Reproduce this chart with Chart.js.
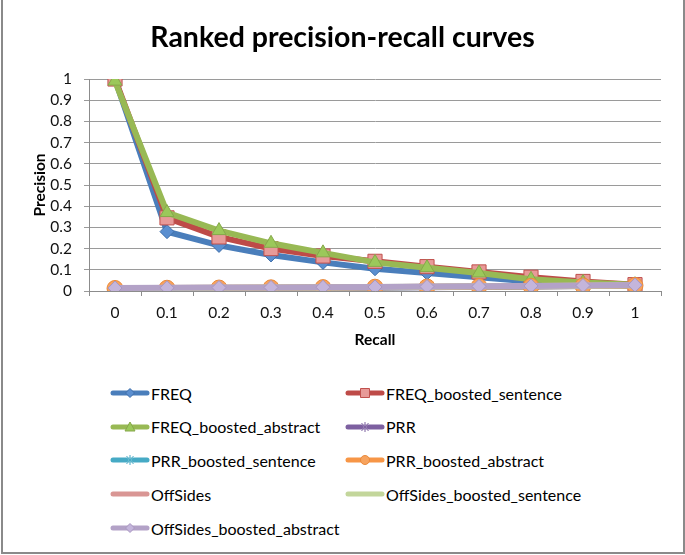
<!DOCTYPE html>
<html>
<head>
<meta charset="utf-8">
<script src="https://cdn.jsdelivr.net/npm/chart.js@4/dist/chart.umd.min.js"></script>
<style>
  html, body { margin: 0; padding: 0; background: #fff; }
  #wrap { position: relative; width: 685px; height: 555px; overflow: hidden; background: #fff; }
  #frame { position: absolute; left: 1px; top: -4px; width: 684px; height: 558px; border: 2px solid #8a8a8a; box-sizing: border-box; pointer-events: none; }
  #cv { position: absolute; left: 0; top: 0; }
  .leg { position: absolute; font-family: Lato, "Open Sans", sans-serif; font-size: 16px; color: #000; white-space: nowrap; display: flex; align-items: center; height: 20px; }
  .leg canvas { display: block; margin-right: 1px; }
</style>
</head>
<body>
<div id="wrap">
  <canvas id="cv" width="685" height="353"></canvas>
  <div id="legend"></div>
  <div id="frame"></div>
</div>
<script>
// ---- data ----
const recall = ["0", "0.1", "0.2", "0.3", "0.4", "0.5", "0.6", "0.7", "0.8", "0.9", "1"];
const seriesNames = ["FREQ", "FREQ_boosted_sentence", "FREQ_boosted_abstract", "PRR", "PRR_boosted_sentence", "PRR_boosted_abstract", "OffSides", "OffSides_boosted_sentence", "OffSides_boosted_abstract"];
const freq            = [1.00, 0.28, 0.215, 0.17, 0.135, 0.105, 0.085, 0.065, 0.045, 0.035, 0.028];
const freqBoostedSent = [1.00, 0.345, 0.255, 0.20, 0.165, 0.14, 0.115, 0.09, 0.065, 0.045, 0.03];
const freqBoostedAbs  = [0.99, 0.37, 0.285, 0.225, 0.18, 0.135, 0.11, 0.085, 0.055, 0.04, 0.03];
const prr             = [0.010, 0.012, 0.013, 0.014, 0.015, 0.017, 0.018, 0.020, 0.021, 0.023, 0.025];
const prrBoostedSent  = [0.011, 0.012, 0.013, 0.014, 0.016, 0.017, 0.019, 0.020, 0.022, 0.024, 0.026];
const prrBoostedAbs   = [0.012, 0.013, 0.014, 0.015, 0.016, 0.018, 0.019, 0.021, 0.022, 0.024, 0.026];
const offSides        = [0.013, 0.014, 0.015, 0.016, 0.017, 0.018, 0.020, 0.021, 0.023, 0.025, 0.027];
const offSidesBoostedSent = [0.013, 0.014, 0.015, 0.016, 0.017, 0.019, 0.020, 0.022, 0.023, 0.025, 0.027];
const offSidesBoostedAbs  = [0.014, 0.015, 0.016, 0.017, 0.018, 0.019, 0.021, 0.022, 0.024, 0.026, 0.028];
const yTicks = [0, 0.1, 0.2, 0.3, 0.4, 0.5, 0.6, 0.7, 0.8, 0.9, 1];

const values = [freq, freqBoostedSent, freqBoostedAbs, prr, prrBoostedSent, prrBoostedAbs, offSides, offSidesBoostedSent, offSidesBoostedAbs];

// ---- styles ----
const styles = [
  { line: "#4A7EBB", fill: "#5B8FD0", border: "#3F6FAA", point: "rectRot", r: 7 },
  { line: "#BE4B48", fill: "#E79A98", border: "#C0504D", point: "rect", r: 10 },
  { line: "#98B954", fill: "#9BC85A", border: "#86A84A", point: "triangle", r: 8 },
  { line: "#7D60A0", fill: "#7D60A0", border: "#7D60A0", point: "star", r: 6 },
  { line: "#46AAC5", fill: "#46AAC5", border: "#46AAC5", point: "star", r: 7.5 },
  { line: "#F79646", fill: "#F7A35E", border: "#E98A3C", point: "circle", r: 8 },
  { line: "#D99694", fill: "#D99694", border: "#D99694", point: false, r: 0 },
  { line: "#C3D69B", fill: "#C3D69B", border: "#C3D69B", point: false, r: 0 },
  { line: "#B3A2C7", fill: "#C4B5DB", border: "#A896C0", point: "rectRot", r: 7 }
];

const FONT = "Lato, 'Open Sans', sans-serif";
const datasets = seriesNames.map((name, i) => ({
  label: name,
  data: values[i],
  yAxisID: "y",
  borderColor: styles[i].line,
  borderWidth: 6,
  backgroundColor: styles[i].fill,
  pointStyle: styles[i].point,
  pointRadius: styles[i].r,
  pointBackgroundColor: styles[i].fill,
  pointBorderColor: styles[i].border,
  pointBorderWidth: (styles[i].point === "star") ? 2 : 1,
  tension: 0,
  fill: false,
  order: seriesNames.length - i
}));

new Chart(document.getElementById("cv"), {
  type: "line",
  data: { labels: recall, datasets },
  options: {
    responsive: false,
    animation: false,
    layout: { padding: { left: 0, right: 0, top: 0, bottom: 0 } },
    plugins: {
      legend: { display: false },
      tooltip: { enabled: false },
      title: {
        display: true,
        text: "Ranked precision-recall curves",
        color: "#000",
        font: { family: FONT, size: 28.5, weight: "bold" },
        padding: { top: 21, bottom: 79 - 21 - 28.5 * 1.2 }
      }
    },
    scales: {
      x: {
        type: "category",
        offset: true,
        grid: { display: true, drawOnChartArea: false, drawTicks: true, tickLength: 5, offset: true, color: "#8c8c8c" },
        border: { display: true, color: "#8c8c8c", width: 1 },
        ticks: { color: "#111", font: { family: FONT, size: 15.5 }, padding: 8, maxRotation: 0 },
        title: { display: true, text: "Recall", color: "#000", font: { family: FONT, size: 15.5, weight: "bold" }, padding: { top: 4, bottom: 4 } },
        afterFit: (s) => { s.height = 62; }
      },
      y: {
        min: 0, max: 1,
        afterBuildTicks: (s) => { s.ticks = yTicks.map(v => ({ value: v })); },
        grid: { color: "#9a9a9a", lineWidth: 1, drawTicks: true, tickLength: 5 },
        border: { display: true, color: "#8c8c8c", width: 1 },
        ticks: { color: "#111", font: { family: FONT, size: 15.5 }, padding: 12, autoSkip: false, callback: (v) => String(v) },
        title: { display: true, text: "Precision", color: "#000", font: { family: FONT, size: 15.5, weight: "bold" }, padding: { top: 31, bottom: 0 } },
        afterFit: (s) => { s.width = 89; }
      },
      yRightSpace: {
        position: "right",
        min: 0, max: 1,
        grid: { display: false, drawTicks: false },
        border: { display: false },
        ticks: { display: false },
        afterFit: (s) => { s.width = 24; }
      }
    }
  }
});

// ---- HTML legend (two columns), small hand-drawn legend markers ----
function legendMarker(ctx, st, x, y) {
  ctx.fillStyle = st.fill;
  ctx.strokeStyle = st.border;
  ctx.lineWidth = 1;
  ctx.beginPath();
  if (st.point === "rectRot") {
    ctx.moveTo(x, y - 4.5); ctx.lineTo(x + 4.5, y); ctx.lineTo(x, y + 4.5); ctx.lineTo(x - 4.5, y); ctx.closePath();
    ctx.fill(); ctx.stroke();
  } else if (st.point === "rect") {
    ctx.rect(x - 4.5, y - 4.5, 9, 9); ctx.fill(); ctx.stroke();
  } else if (st.point === "triangle") {
    ctx.moveTo(x, y - 5); ctx.lineTo(x + 5, y + 4); ctx.lineTo(x - 5, y + 4); ctx.closePath();
    ctx.fill(); ctx.stroke();
  } else if (st.point === "circle") {
    ctx.arc(x, y, 4.5, 0, Math.PI * 2); ctx.fill(); ctx.stroke();
  } else if (st.point === "star") {
    ctx.lineWidth = 1.2;
    ctx.moveTo(x - 3.5, y - 4); ctx.lineTo(x + 3.5, y + 4);
    ctx.moveTo(x + 3.5, y - 4); ctx.lineTo(x - 3.5, y + 4);
    ctx.moveTo(x, y - 5); ctx.lineTo(x, y + 5);
    ctx.strokeStyle = "#ffffff88"; ctx.stroke();
    ctx.strokeStyle = st.border; ctx.lineWidth = 1; ctx.stroke();
  }
}
const legend = document.getElementById("legend");
const colX = [110, 345];
const rowY = [393, 426.5, 460, 494, 528];
seriesNames.forEach((name, i) => {
  const col = i % 2, row = Math.floor(i / 2);
  const item = document.createElement("div");
  item.className = "leg";
  item.style.left = colX[col] + "px";
  item.style.top = (rowY[row] - 10) + "px";
  const c = document.createElement("canvas");
  c.width = 40; c.height = 20;
  const ctx = c.getContext("2d");
  ctx.strokeStyle = styles[i].line;
  ctx.lineWidth = 5;
  ctx.lineCap = "round";
  ctx.beginPath(); ctx.moveTo(3, 10); ctx.lineTo(37, 10); ctx.stroke();
  ctx.lineCap = "butt";
  if (styles[i].point) legendMarker(ctx, styles[i], 20, 10);
  item.appendChild(c);
  const t = document.createElement("span");
  t.textContent = name;
  item.appendChild(t);
  legend.appendChild(item);
});
</script>
</body>
</html>
